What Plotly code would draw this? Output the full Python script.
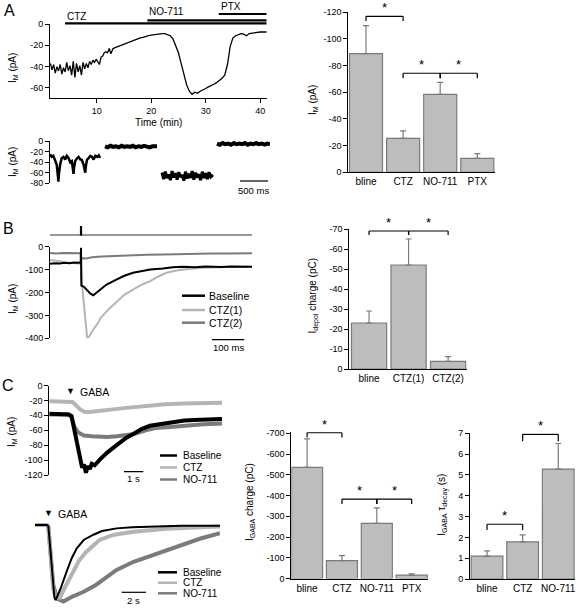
import plotly.graph_objects as go

W, H = 580, 611
FONT = "Liberation Sans, Arial, Helvetica, sans-serif"
BLACK = "#000000"
LIGHT = "#b4b4b4"
DARK = "#7b7b7b"
BAR_FILL = "#bdbdbd"
BAR_EDGE = "#7a7a7a"

# ---------------- Panel A: time course ----------------
a_time_min = [1.5, 1.8, 2.1, 2.4, 2.7, 3.0, 3.3, 3.6, 3.9, 4.2, 4.5, 4.8, 5.1, 5.4, 5.7,
              6.0, 6.3, 6.6, 6.9, 7.2, 7.5, 7.8, 8.1, 8.4, 8.7, 9.0, 9.3, 9.6, 9.9,
              10.2, 10.5, 10.8, 11.1, 11.4, 11.7, 12.0, 12.3, 12.6,
              13.0, 13.5, 14.0, 14.5, 15.0, 15.5, 16.0, 16.5, 17.0, 17.5, 18.0, 18.5,
              19.0, 19.5, 20.0, 20.5, 21.0, 21.5, 22.0, 22.5, 23.0, 23.5, 24.0, 24.5,
              25.0, 25.5, 26.0, 26.5, 27.0, 27.5, 28.0, 28.5, 29.0, 29.5, 30.0, 30.5,
              31.0, 31.5, 32.0, 32.5, 33.0, 33.5, 34.0, 34.5, 35.0, 35.5, 36.0, 36.5,
              37.0, 37.5, 38.0, 38.5, 39.0, 39.5, 40.0, 40.5, 41.2]
a_im_pa = [-37, -43, -38, -46, -40, -44, -38, -47, -41, -45, -36, -44, -39, -48, -35,
           -50, -37, -45, -39, -48, -36, -42, -37, -41, -35, -38, -34, -36, -33,
           -36, -38, -31, -30, -27, -26, -27, -23, -28,
           -23, -22, -21, -19.5, -18.5, -17.5, -16.5, -15.5, -14.5, -14, -13, -12.5,
           -11.5, -11, -10.5, -10, -9.5, -9, -9, -9, -10, -11, -14, -20,
           -27, -37, -48, -57, -63, -66, -64, -65, -63, -62, -60.5, -59,
           -58, -56.5, -55, -53, -51, -48, -38, -21, -13, -11, -10, -9,
           -9.5, -11, -9, -8.5, -8, -8, -7.5, -7.5, -7.5]
a_x_ticks = [10, 20, 30, 40]
a_x_ticktext = ["10", "20", "30", "40"]
a_y_ticks = [0, -20, -40, -60]
a_y_ticktext = ["0", "-20", "-40", "-60"]
a_drugs = ["CTZ", "NO-711", "PTX"]
a_drug_start = [4.2, 19.3, 32.4]
a_drug_end = 41.2

# ---------------- Panel A: raw sweeps (ms) ----------------
raw1_ms = [0, 30, 60, 90, 120, 140, 150, 160, 180, 210, 240, 270, 300, 330, 360, 390, 410,
           420, 430, 450, 480, 510, 540, 570, 600, 620, 630, 640, 660, 690, 720, 750,
           780, 810, 840, 870, 893]
raw1_pa = [-25, -30, -28, -35, -45, -65, -77, -62, -45, -32, -30, -35, -28, -32, -40, -38,
           -55, -62, -50, -38, -33, -30, -35, -36, -45, -58, -60, -48, -36, -32, -28, -30,
           -35, -28, -30, -27, -32]
raw2_ms = [982, 1030, 1080, 1130, 1180, 1230, 1280, 1330, 1380, 1430, 1480, 1530, 1580,
           1630, 1680, 1730, 1780, 1830, 1880, 1911]
raw2_pa = [-10, -12, -9, -11, -10, -12, -9, -11, -10, -11, -9, -12, -10, -11, -9, -10,
           -12, -10, -11, -10]
raw3_ms = [2000, 2030, 2060, 2090, 2120, 2150, 2180, 2210, 2240, 2270, 2300, 2330, 2360,
           2390, 2420, 2450, 2480, 2510, 2540, 2570, 2600, 2630, 2660, 2690, 2720, 2750,
           2780, 2810, 2840, 2870, 2911]
raw3_pa = [-60, -72, -58, -70, -63, -74, -57, -69, -61, -73, -59, -68, -64, -75, -58, -71,
           -62, -70, -57, -73, -60, -69, -63, -74, -58, -70, -61, -72, -59, -68, -64]
raw4_ms = [2982, 3032, 3082, 3132, 3182, 3232, 3282, 3332, 3382, 3432, 3482, 3532, 3582,
           3632, 3682, 3732, 3782, 3832, 3882, 3929]
raw4_pa = [-5, -7, -4, -6, -5, -7, -4, -6, -5, -6, -4, -7, -5, -6, -4, -6, -5, -7, -5, -6]
raw_y_ticks = [0, -20, -40, -60, -80]
raw_y_ticktext = ["0", "-20", "-40", "-60", "-80"]
raw_scale_ms = [3393, 3893]

# ---------------- Panel A: bar chart ----------------
a_cats = ["bline", "CTZ", "NO-711", "PTX"]
a_mean = [-89, -25.5, -58.5, -10.5]
a_sem = [21, 5.5, 9, 3.5]
a_bar_ticks = [0, -20, -40, -60, -80, -100, -120]
a_bar_ticktext = ["0", "-20", "-40", "-60", "-80", "-100", "-120"]

# ---------------- Panel B: traces (ms) ----------------
b_stim_ms = 96
b_ctz2_ms = [0, 20, 40, 60, 80, 95, 96, 98, 110, 130, 160, 200, 250, 300, 350, 400, 450,
             500, 550, 600, 625]
b_ctz2_pa = [-28, -30, -28, -29, -28, -29, -55, -50, -52, -46, -43, -40, -38, -35, -34,
             -32, -31, -30, -30, -29, -29]
b_base_ms = [0, 15, 30, 45, 60, 75, 90, 95, 96, 97, 105, 115, 125, 134, 145, 155, 175, 207,
             230, 257, 285, 310, 350, 380, 412, 450, 480, 500, 530, 560, 590, 625]
b_base_pa = [-75, -72, -73, -70, -72, -69, -70, -68, -5, -170, -175, -192, -205, -212, -200,
             -185, -165, -143, -127, -114, -106, -100, -95, -90, -88, -90, -86, -87, -89,
             -86, -88, -88]
b_ctz1_ms = [0, 15, 30, 45, 60, 75, 90, 95, 96, 98, 115, 120, 130, 150, 155, 180, 206, 230,
             258, 285, 310, 335, 360, 400, 430, 460, 520, 570, 625]
b_ctz1_pa = [-58, -60, -64, -68, -70, -72, -72, -73, -75, -150, -398, -395, -370, -330,
             -314, -275, -243, -210, -186, -165, -150, -130, -114, -102, -97, -93, -90,
             -89, -88]
b_y_ticks = [0, -100, -200, -300, -400]
b_y_ticktext = ["0", "-100", "-200", "-300", "-400"]
b_scale_ms = [501, 601]
b_legend = ["Baseline", "CTZ(1)", "CTZ(2)"]

# ---------------- Panel B: bar chart ----------------
b_cats = ["bline", "CTZ(1)", "CTZ(2)"]
b_mean = [-23, -52, -3.8]
b_sem = [6, 13, 2.4]
b_bar_ticks = [0, -10, -20, -30, -40, -50, -60, -70]
b_bar_ticktext = ["0", "-10", "-20", "-30", "-40", "-50", "-60", "-70"]

# ---------------- Panel C: top traces (s) ----------------
c_stim_s = 1.08
c_ctz_s = [0, 0.5, 1.0, 1.2, 1.4, 1.6, 1.8, 2.0, 2.3, 2.8, 3.3, 4.0, 5.0, 6.0, 7.0, 8.0, 8.95]
c_ctz_pa = [-21, -21, -21, -22, -27, -32, -35, -36, -35, -34, -32, -30, -27, -25, -24, -23, -23]
c_base_s = [0, 0.5, 1.0, 1.15, 1.3, 1.45, 1.6, 1.7, 1.8, 1.9, 2.0, 2.1, 2.2, 2.35, 2.63, 3.0,
            3.49, 4.0, 4.35, 4.8, 5.21, 6.1, 7.0, 7.8, 8.95]
c_base_pa = [-38, -39, -39, -41, -60, -85, -100, -110, -106, -117, -108, -112, -105, -107,
             -99, -90, -80, -70, -65, -58, -54, -50, -47, -46, -45]
c_no_s = [0, 0.5, 1.0, 1.15, 1.3, 1.5, 1.8, 2.2, 2.6, 3.0, 3.5, 4.0, 4.4, 5.0, 5.5, 6.1, 7.0,
          8.0, 8.95]
c_no_pa = [-39, -39, -39, -42, -55, -63, -67, -68, -69, -69, -68, -67, -65, -60, -57, -56,
           -54, -52, -51]
c_y_ticks = [0, -20, -40, -60, -80, -100, -120]
c_y_ticktext = ["0", "-20", "-40", "-60", "-80", "-100", "-120"]
c_scale_s = [3.87, 4.87]
c_legend = ["Baseline", "CTZ", "NO-711"]

# ---------------- Panel C: normalised traces (s) ----------------
n_stim_s = 1.1
n_base_s = [0, 0.5, 1.0, 1.1, 1.3, 1.45, 1.6, 1.7, 1.85, 2.1, 2.6, 3.0, 3.43, 4.0, 4.8, 5.5,
            6.7, 8.0, 10.0, 12.0, 15.2]
n_base_v = [0, 0, 0, -0.02, -0.4, -0.8, -0.97, -1.0, -0.95, -0.85, -0.62, -0.45, -0.31,
            -0.2, -0.13, -0.08, -0.045, -0.03, -0.02, -0.01, -0.01]
n_ctz_s = [0, 0.5, 1.0, 1.1, 1.3, 1.5, 1.7, 2.05, 2.4, 3.1, 3.6, 4.2, 5.3, 6.5, 8.1, 10.8,
           13.0, 15.2]
n_ctz_v = [0, 0, 0, -0.03, -0.45, -0.85, -0.97, -0.97, -0.85, -0.62, -0.48, -0.36, -0.2,
           -0.13, -0.09, -0.05, -0.03, -0.02]
n_no_s = [0, 0.5, 1.0, 1.1, 1.3, 1.5, 1.8, 2.33, 3.0, 4.0, 5.0, 6.0, 6.7, 8.1, 9.5, 10.8,
          12.0, 13.6, 15.2]
n_no_v = [0, 0, 0, -0.03, -0.4, -0.8, -0.98, -1.02, -0.96, -0.89, -0.8, -0.68, -0.6, -0.49,
          -0.41, -0.33, -0.26, -0.18, -0.11]
n_scale_s = [7.12, 9.12]

# ---------------- Panel C: bar charts ----------------
c1_cats = ["bline", "CTZ", "NO-711", "PTX"]
c1_mean = [-536, -86, -266, -16]
c1_sem = [137, 24, 75, 7]
c1_ticks = [0, -100, -200, -300, -400, -500, -600, -700]
c1_ticktext = ["0", "-100", "-200", "-300", "-400", "-500", "-600", "-700"]
c2_cats = ["bline", "CTZ", "NO-711"]
c2_mean = [1.1, 1.78, 5.28]
c2_sem = [0.25, 0.34, 1.23]
c2_ticks = [0, 1, 2, 3, 4, 5, 6, 7]
c2_ticktext = ["0", "1", "2", "3", "4", "5", "6", "7"]


# ======================================================
def PX(x):
    return x / W


def PY(y):
    return 1 - y / H


def xdom(a, b):
    return [a / W, b / W]


def ydom(top, bottom):
    return [1 - bottom / H, 1 - top / H]


fig = go.Figure()
layout = dict(template="none", width=W, height=H, margin=dict(l=0, r=0, t=0, b=0, pad=0),
              paper_bgcolor="white", plot_bgcolor="white", showlegend=False,
              font=dict(family=FONT, size=10, color="black"))


def y_axis(top, bottom, rng, tv, tt, anchor):
    return dict(domain=ydom(top, bottom), range=rng, anchor=anchor, showline=True,
                linecolor="black", linewidth=1, ticks="outside", ticklen=4, tickwidth=1,
                tickcolor="black", tickvals=tv, ticktext=tt, tickfont=dict(size=9),
                showgrid=False, zeroline=False, fixedrange=True, automargin=False)


def x_hidden(a, b, rng, anchor):
    return dict(domain=xdom(a, b), range=rng, anchor=anchor, visible=False,
                showgrid=False, zeroline=False, fixedrange=True, automargin=False)


def x_cat(a, b, rng, cats, anchor):
    return dict(domain=xdom(a, b), range=rng, anchor=anchor, showline=True,
                linecolor="black", linewidth=1, ticks="", tickvals=list(range(len(cats))),
                ticktext=cats, tickfont=dict(size=10), showgrid=False, zeroline=False,
                fixedrange=True, automargin=False, ticklabeloverflow="allow")


# axis 1: A time course
layout["xaxis"] = dict(domain=xdom(50, 266.7), range=[1.43, 41.2], anchor="y", showline=True,
                       linecolor="black", ticks="outside", ticklen=4, tickcolor="black",
                       tickvals=a_x_ticks, ticktext=a_x_ticktext, tickfont=dict(size=9),
                       showgrid=False, zeroline=False, fixedrange=True, automargin=False)
layout["yaxis"] = y_axis(24, 98, [-69.4, 0], a_y_ticks, a_y_ticktext, "x")
# axis 2: raw sweeps
layout["xaxis2"] = x_hidden(50, 270, [0, 3929], "y2")
layout["yaxis2"] = y_axis(141, 183.3, [-80, 0], raw_y_ticks, raw_y_ticktext, "x2")
# axis 3: A bars
layout["xaxis3"] = x_cat(348.3, 495, [-0.477, 3.477], a_cats, "y3")
layout["yaxis3"] = y_axis(12.3, 172.3, [0, -120], a_bar_ticks, a_bar_ticktext, "x3")
# axis 4: B traces
layout["xaxis4"] = x_hidden(50, 252, [0, 625], "y4")
layout["yaxis4"] = y_axis(246.7, 338.3, [-400, 0], b_y_ticks, b_y_ticktext, "x4")
# axis 5: B bars
layout["xaxis5"] = x_cat(349.3, 466.7, [-0.5, 2.47], b_cats, "y5")
layout["yaxis5"] = y_axis(229, 369, [0, -70], b_bar_ticks, b_bar_ticktext, "x5")
# axis 6: C top traces
layout["xaxis6"] = x_hidden(49.3, 222, [0, 8.95], "y6")
layout["yaxis6"] = y_axis(385.5, 475, [-120, 0], c_y_ticks, c_y_ticktext, "x6")
# axis 7: C normalised traces
layout["xaxis7"] = x_hidden(35, 220, [0, 15.2], "y7")
layout["yaxis7"] = dict(domain=ydom(510, 605), range=[-1.067, 0.2], anchor="x7", visible=False,
                        showgrid=False, zeroline=False, fixedrange=True, automargin=False)
# axis 8: C charge bars
layout["xaxis8"] = x_cat(291.4, 428.4, [-0.45, 3.48], c1_cats, "y8")
layout["yaxis8"] = y_axis(432.3, 578.5, [0, -705], c1_ticks, c1_ticktext, "x8")
# axis 9: C tau bars
layout["xaxis9"] = x_cat(470, 575, [-0.478, 2.47], c2_cats, "y9")
layout["yaxis9"] = y_axis(433.3, 579, [0, 7], c2_ticks, c2_ticktext, "x9")


def line_trace(x, y, color, width, ax):
    fig.add_trace(go.Scatter(x=x, y=y, mode="lines", line=dict(color=color, width=width),
                             xaxis="x" + ax, yaxis="y" + ax, hoverinfo="skip"))


def bar_trace(vals, sem, ax, positive=False):
    err = dict(type="data", symmetric=False, array=sem if positive else [0] * len(sem),
               arrayminus=[0] * len(sem) if positive else sem, color=BAR_EDGE,
               thickness=1.2, width=3)
    fig.add_trace(go.Bar(x=list(range(len(vals))), y=vals, width=0.89,
                         marker=dict(color=BAR_FILL, line=dict(color=BAR_EDGE, width=1.2)),
                         error_y=err, xaxis="x" + ax, yaxis="y" + ax, hoverinfo="skip"))


# A traces
line_trace(a_time_min, a_im_pa, BLACK, 1.3, "")
line_trace(raw1_ms, raw1_pa, BLACK, 2.5, "2")
line_trace(raw2_ms, raw2_pa, BLACK, 4, "2")
line_trace(raw3_ms, raw3_pa, BLACK, 3, "2")
line_trace(raw4_ms, raw4_pa, BLACK, 4, "2")
bar_trace(a_mean, a_sem, "3")
# B traces
line_trace(b_ctz1_ms, b_ctz1_pa, LIGHT, 2, "4")
line_trace(b_ctz2_ms, b_ctz2_pa, DARK, 2, "4")
line_trace(b_base_ms, b_base_pa, BLACK, 2, "4")
bar_trace(b_mean, b_sem, "5")
# C traces
line_trace(c_no_s, c_no_pa, DARK, 4, "6")
line_trace(c_base_s, c_base_pa, BLACK, 4, "6")
line_trace(c_ctz_s, c_ctz_pa, LIGHT, 4, "6")
line_trace(n_no_s, n_no_v, DARK, 4, "7")
line_trace(n_ctz_s, n_ctz_v, LIGHT, 4, "7")
line_trace(n_base_s, n_base_v, BLACK, 2, "7")
bar_trace(c1_mean, c1_sem, "8")
bar_trace(c2_mean, c2_sem, "9", positive=True)

shapes = []
ann = []


def pline(x0, y0, x1, y1, width=1, color="black", xref="paper"):
    shapes.append(dict(type="line", xref=xref, yref="paper",
                       x0=x0 if xref != "paper" else PX(x0), x1=x1 if xref != "paper" else PX(x1),
                       y0=PY(y0), y1=PY(y1), line=dict(color=color, width=width)))


def text(x, y, s, size=10, xanchor="center", angle=0, xref="paper"):
    ann.append(dict(x=x if xref != "paper" else PX(x), y=PY(y), xref=xref, yref="paper",
                    text=s, showarrow=False, xanchor=xanchor, yanchor="middle",
                    textangle=angle, font=dict(size=size, family=FONT, color="black")))


def bracket(ax, xa, xb, ytop, ytick):
    for (x0, y0, x1, y1) in [(xa, ytick, xa, ytop), (xa, ytop, xb, ytop), (xb, ytop, xb, ytick)]:
        shapes.append(dict(type="line", xref="x" + ax, yref="y" + ax, x0=x0, y0=y0, x1=x1, y1=y1,
                           line=dict(color="black", width=1.2)))
    ann.append(dict(x=(xa + xb) / 2, y=ytop, xref="x" + ax, yref="y" + ax, text="*",
                    showarrow=False, yanchor="bottom", yshift=-1,
                    font=dict(size=13, family=FONT, color="black")))


# panel letters
text(9, 10, "A", 16)
text(8, 229, "B", 16)
text(8, 385, "C", 16)

# A: drug application bars
drug_bar_y = [23.3, 20.3, 14.0]
drug_lab_y = [16.7, 12.0, 6.7]
for name, t0, by, ly in zip(a_drugs, a_drug_start, drug_bar_y, drug_lab_y):
    pline(t0, by, a_drug_end, by, 2.2, xref="x")
    text(t0, ly, name, 10, xanchor="left", xref="x")
text(158, 122.7, "Time (min)", 10)
text(13, 68, "I<sub>M</sub> (pA)", 10, angle=-90)
text(13, 162, "I<sub>M</sub> (pA)", 10, angle=-90)
pline(raw_scale_ms[0], 181, raw_scale_ms[1], 181, 1.2, xref="x2")
text(sum(raw_scale_ms) / 2, 190.5, "500 ms", 9.5, xref="x2")
text(313, 100, "I<sub>M</sub> (pA)", 10, angle=-90)
bracket("3", 0, 1, -117, -113.5)
bracket("3", 1, 2, -74.3, -70.5)
bracket("3", 2, 3, -74.3, -70.5)

# B
pline(50, 235, 252, 235, 1.2, color="#333333")
pline(b_stim_ms, 226, b_stim_ms, 235.5, 2.2, xref="x4")
text(13, 299, "I<sub>M</sub> (pA)", 10, angle=-90)
for lab, col, yy in zip(b_legend, [BLACK, LIGHT, DARK], [295.7, 310, 322.7]):
    pline(182, yy, 205, yy, 2.5, color=col)
    text(207, yy, lab, 10.5, xanchor="left")
pline(b_scale_ms[0], 339.7, b_scale_ms[1], 339.7, 1.2, xref="x4")
text(sum(b_scale_ms) / 2, 347.5, "100 ms", 9.5, xref="x4")
text(312.5, 296, "I<sub>depol</sub> charge (pC)", 10, angle=-90)
bracket("5", 0, 1, -69, -67)
bracket("5", 1, 2, -69, -67)

# C top
text(c_stim_s, 391, "▼", 9, xref="x6")
text(78, 391.5, "GABA", 10.5, xanchor="left")
text(12, 432, "I<sub>M</sub> (pA)", 10, angle=-90)
for lab, col, yy in zip(c_legend, [BLACK, LIGHT, DARK], [455.5, 467.5, 479.5]):
    pline(160, yy, 177, yy, 2.5, color=col)
    text(181, yy, lab, 10, xanchor="left")
pline(c_scale_s[0], 471.7, c_scale_s[1], 471.7, 1.2, xref="x6")
text(sum(c_scale_s) / 2, 478.8, "1 s", 9.5, xref="x6")
# C bottom
text(n_stim_s, 513.3, "▼", 9, xref="x7")
text(56, 513.8, "GABA", 10.5, xanchor="left")
for lab, col, yy in zip(c_legend, [BLACK, LIGHT, DARK], [572.3, 582.7, 593.3]):
    pline(158, yy, 177, yy, 2.5, color=col)
    text(181, yy, lab, 10, xanchor="left")
pline(n_scale_s[0], 592.3, n_scale_s[1], 592.3, 1.2, xref="x7")
text(sum(n_scale_s) / 2, 600, "2 s", 9.5, xref="x7")
# C bars
text(250, 502, "I<sub>GABA</sub> charge (pC)", 10, angle=-90)
bracket("8", 0, 1, -703, -680)
bracket("8", 1, 2, -383, -359)
bracket("8", 2, 3, -383, -359)
text(441.7, 505, "I<sub>GABA</sub> τ<sub>decay</sub> (s)", 10, angle=-90)
bracket("9", 0, 1, 2.63, 2.36)
bracket("9", 1, 2, 6.95, 6.62)

layout["shapes"] = shapes
layout["annotations"] = ann
fig.update_layout(**layout)
# remove the browser's default 8px page margin so the 580x611 figure fills the window
fig.write_html("out.html", config={"displayModeBar": False, "staticPlot": True},
               post_script="document.body.style.margin='0px';")
